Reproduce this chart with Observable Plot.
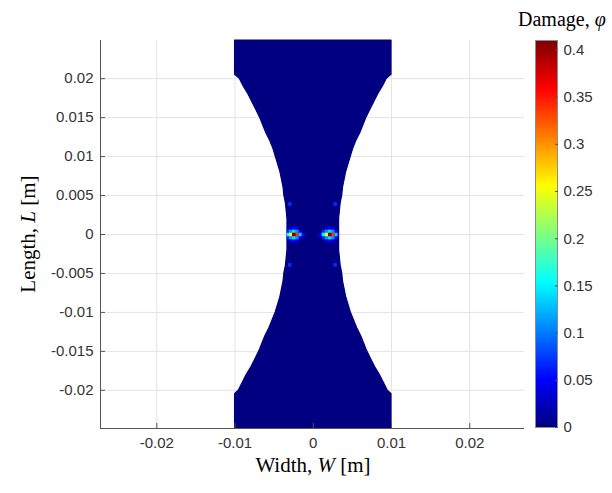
<!DOCTYPE html>
<html><head><meta charset="utf-8">
<script src="https://cdn.jsdelivr.net/npm/d3@7"></script>
<script src="https://cdn.jsdelivr.net/npm/@observablehq/plot@0.6"></script>
<style>
body{margin:0;background:#fff;}
#wrap{position:relative;width:612px;height:493px;font-family:"Liberation Sans",Arial,sans-serif;overflow:hidden;}
#wrap svg{position:absolute;left:0;top:0;}
.ttl{position:absolute;font-family:"Liberation Serif","Times New Roman",serif;font-size:21px;color:#000;white-space:nowrap;line-height:1;}
</style></head><body>
<div id="wrap"></div>
<script>
// ---- axes / ticks ----
const xTicks = [-0.02, -0.01, 0, 0.01, 0.02];
const yTicks = [-0.02, -0.015, -0.01, -0.005, 0, 0.005, 0.01, 0.015, 0.02];
const cbTicks = [0, 0.05, 0.1, 0.15, 0.2, 0.25, 0.3, 0.35, 0.4];
const xDomain = [-0.0272, 0.0270];
const yDomain = [-0.0249, 0.0249];
const damageMax = 0.41;

// ---- specimen outline: length position vs half-width ----
const profileY = [-0.0249, -0.0205, -0.0200, -0.019, -0.018, -0.017, -0.016, -0.015, -0.014, -0.013, -0.012, -0.011, -0.010, -0.009, -0.008, -0.007, -0.006, -0.005, -0.004, -0.003, -0.002, -0.001, 0,
                  0.001, 0.002, 0.003, 0.004, 0.005, 0.006, 0.007, 0.008, 0.009, 0.010, 0.011, 0.012, 0.013, 0.014, 0.015, 0.016, 0.017, 0.018, 0.019, 0.0200, 0.0205, 0.0249];
const profileHalfW = [0.0100, 0.0100, 0.0095, 0.0090, 0.0085, 0.0079, 0.0074, 0.0069, 0.0065, 0.0061, 0.0056, 0.0052, 0.0048, 0.0045, 0.0042, 0.0040, 0.0038, 0.0037, 0.0035, 0.0034, 0.0033, 0.0033, 0.0033,
                      0.0033, 0.0033, 0.0034, 0.0035, 0.0037, 0.0038, 0.0040, 0.0042, 0.0045, 0.0048, 0.0051, 0.0055, 0.0060, 0.0064, 0.0068, 0.0073, 0.0078, 0.0083, 0.0089, 0.0094, 0.0100, 0.0100];

// ---- damaged particles ----
const damageX = [
  // left crack tip
  -0.0032, -0.0029, -0.0025, -0.0021, -0.0017, -0.0013,
  -0.0032, -0.0029, -0.0025, -0.0021, -0.0017,
  -0.0032, -0.0029, -0.0025, -0.0021, -0.0017,
  -0.0029, -0.0025, -0.0021, -0.0029, -0.0025, -0.0021,
  -0.0030, -0.0030,
  // right crack tip
  0.0029, 0.0025, 0.0021, 0.0017, 0.0013, 0.0009,
  0.0029, 0.0025, 0.0021, 0.0017, 0.0013,
  0.0029, 0.0025, 0.0021, 0.0017, 0.0013,
  0.0025, 0.0021, 0.0017, 0.0025, 0.0021, 0.0017,
  0.0028, 0.0028
];
const damageY = [
  0, 0, 0, 0, 0, 0,
  0.0004, 0.0004, 0.0004, 0.0004, 0.0004,
  -0.0004, -0.0004, -0.0004, -0.0004, -0.0004,
  0.0008, 0.0008, 0.0008, -0.0008, -0.0008, -0.0008,
  0.0039, -0.0039,
  0, 0, 0, 0, 0, 0,
  0.0004, 0.0004, 0.0004, 0.0004, 0.0004,
  -0.0004, -0.0004, -0.0004, -0.0004, -0.0004,
  0.0008, 0.0008, 0.0008, -0.0008, -0.0008, -0.0008,
  0.0039, -0.0039
];
const damageV = [
  0.15, 0.26, 0.41, 0.34, 0.13, 0.05,
  0.07, 0.11, 0.14, 0.11, 0.05,
  0.07, 0.11, 0.14, 0.11, 0.05,
  0.04, 0.05, 0.04, 0.04, 0.05, 0.04,
  0.07, 0.07,
  0.13, 0.34, 0.41, 0.26, 0.15, 0.05,
  0.05, 0.11, 0.14, 0.11, 0.07,
  0.05, 0.11, 0.14, 0.11, 0.07,
  0.04, 0.05, 0.04, 0.04, 0.05, 0.04,
  0.07, 0.07
];

// ---- jet colormap ----
const jetPos = [0, 0.125, 0.375, 0.625, 0.875, 1];
const jetColors = ["#000080", "#0000ff", "#00ffff", "#ffff00", "#ff0000", "#800000"];

const profile = profileY.map((y, i) => ({y, w: profileHalfW[i]}));
const damage = damageX.map((x, i) => ({x, y: damageY[i], v: damageV[i]}));

const colorScale = {type: "linear", domain: jetPos.map(t => t * damageMax), range: jetColors, interpolate: "rgb"};
const fmt = d => String(d);
const tickColor = "#333";
const fontCss = {background: "transparent", fontFamily: "'Liberation Sans', Arial, sans-serif", fontSize: "15px"};

const main = Plot.plot({
  width: 612, height: 493,
  marginLeft: 100, marginRight: 88, marginTop: 40, marginBottom: 65,
  x: {domain: xDomain},
  y: {domain: yDomain},
  color: colorScale,
  style: fontCss,
  marks: [
    Plot.gridX({ticks: xTicks, stroke: "#e4e4e4", strokeOpacity: 1}),
    Plot.gridY({ticks: yTicks, stroke: "#e4e4e4", strokeOpacity: 1}),
    Plot.areaX(profile, {y: "y", x1: d => -d.w, x2: "w", fill: () => 0, stroke: () => 0, strokeWidth: 1.2, curve: "linear"}),
    Plot.dot(damage, {x: "x", y: "y", fill: "v", r: 1.95, symbol: "square", sort: "v"}),
    Plot.ruleX([xDomain[0]], {stroke: "#555"}),
    Plot.ruleY([yDomain[0]], {stroke: "#555"}),
    Plot.axisX({ticks: xTicks, tickFormat: fmt, tickSize: 0, tickPadding: 9, fontSize: 15, label: null, color: tickColor}),
    Plot.axisX({ticks: xTicks, tickFormat: () => "", tickSize: 5, dy: -5, label: null, stroke: "#555"}),
    Plot.axisY({ticks: yTicks, tickFormat: fmt, tickSize: 0, tickPadding: 7, fontSize: 15, label: null, color: tickColor}),
    Plot.axisY({ticks: yTicks, tickFormat: () => "", tickSize: 5, dx: 5, label: null, stroke: "#555"})
  ]
});

const cbar = Plot.plot({
  width: 612, height: 493,
  marginLeft: 535, marginRight: 55, marginTop: 40, marginBottom: 66,
  x: {domain: [0, 1], axis: null},
  y: {domain: [0, damageMax], axis: null},
  color: colorScale,
  style: fontCss,
  marks: [
    Plot.raster({x1: 0, x2: 1, y1: 0, y2: damageMax, width: 1, height: 300, fill: (x, y) => y, imageRendering: "auto"}),
    Plot.frame({stroke: "#8c8c8c"}),
    Plot.axisY({anchor: "right", ticks: cbTicks, tickFormat: fmt, tickSize: 0, tickPadding: 6, fontSize: 15, label: null, color: tickColor}),
    Plot.axisY({anchor: "right", ticks: cbTicks, tickFormat: () => "", tickSize: 3, dx: -3, label: null, stroke: "#555"})
  ]
});

const wrap = document.getElementById("wrap");
wrap.appendChild(main);
wrap.appendChild(cbar);

function addTitle(html, css) {
  const d = document.createElement("div");
  d.className = "ttl";
  d.innerHTML = html;
  Object.assign(d.style, css);
  wrap.appendChild(d);
}
addTitle("Width, <i>W</i> [m]", {left: "313px", top: "455px", transform: "translateX(-50%)"});
addTitle("Length, <i>L</i> [m]", {left: "28px", top: "234px", transform: "translate(-50%,-50%) rotate(-90deg)"});
addTitle("Damage, <i>φ</i>", {left: "518px", top: "9px", fontSize: "20px"});
</script>
</body></html>
